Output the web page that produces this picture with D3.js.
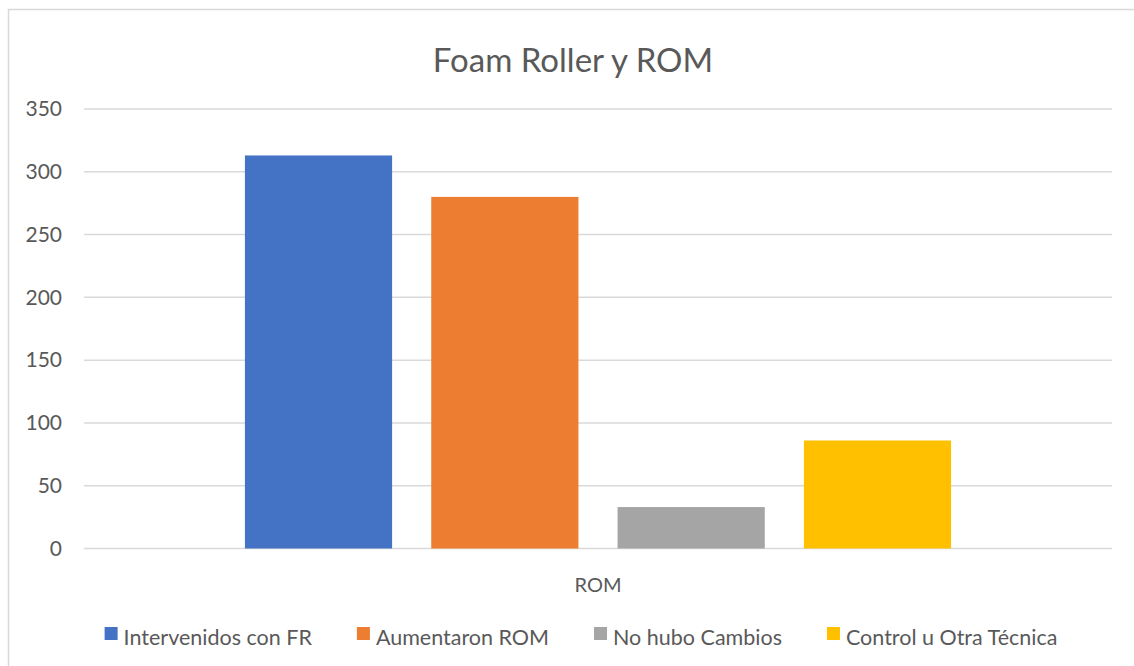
<!DOCTYPE html>
<html lang="es">
<head>
  <meta charset="utf-8">
  <title>Foam Roller y ROM</title>
  <script src="https://d3js.org/d3.v7.min.js"></script>
  <style>
    body { margin: 0; background: #fff; }
    text { font-family: Lato, "Open Sans", sans-serif; fill: #595959; }
  </style>
</head>
<body>
  <script>
    // data
    var categories = ["ROM"];
    var series = ["Intervenidos con FR", "Aumentaron ROM", "No hubo Cambios", "Control u Otra Técnica"];
    var values = [313, 280, 33, 86];
    var colors = ["#4472c4", "#ed7d31", "#a5a5a5", "#ffc000"];
    var yTicks = [0, 50, 100, 150, 200, 250, 300, 350];

    var w = 1134, h = 666;
    var plotLeft = 84, plotRight = 1112, plotTop = 109, plotBottom = 548.5;

    var svg = d3.select("body").append("svg")
      .attr("width", w)
      .attr("height", h);

    // chart border
    svg.append("rect")
      .attr("x", 8.5).attr("y", 9.5)
      .attr("width", w).attr("height", h)
      .attr("fill", "#fff")
      .attr("stroke", "#d9d9d9")
      .attr("stroke-width", 1.5);

    var y = d3.scaleLinear().domain([0, 350]).range([plotBottom, plotTop]);

    var x0 = d3.scaleBand().domain(categories).range([plotLeft, plotRight]);
    // bars of one category, spaced like excel clustered columns
    var groupW = x0.bandwidth() * 0.725;
    var gx = x0("ROM") + (x0.bandwidth() - groupW) / 2;
    var x1 = d3.scaleBand().domain(series)
      .range([gx, gx + groupW])
      .paddingInner(0.21)
      .paddingOuter(0.105);

    // gridlines
    svg.append("g")
      .selectAll("line")
      .data(yTicks)
      .enter().append("line")
      .attr("x1", plotLeft).attr("x2", plotRight)
      .attr("y1", function(d) { return y(d); })
      .attr("y2", function(d) { return y(d); })
      .attr("stroke", "#d9d9d9")
      .attr("stroke-width", 1.5);

    // y tick labels
    svg.append("g")
      .selectAll("text")
      .data(yTicks)
      .enter().append("text")
      .attr("x", 62)
      .attr("y", function(d) { return y(d); })
      .attr("dy", "0.35em")
      .attr("text-anchor", "end")
      .attr("font-size", 21)
      .text(function(d) { return d; });

    // bars
    svg.append("g")
      .selectAll("rect")
      .data(series)
      .enter().append("rect")
      .attr("x", function(d) { return x1(d); })
      .attr("width", x1.bandwidth())
      .attr("y", function(d, i) { return y(values[i]); })
      .attr("height", function(d, i) { return y(0) - y(values[i]); })
      .attr("fill", function(d, i) { return colors[i]; });

    // category label
    svg.append("text")
      .attr("x", x0("ROM") + x0.bandwidth() / 2)
      .attr("y", 592)
      .attr("text-anchor", "middle")
      .attr("font-size", 20)
      .text(categories[0]);

    // title
    svg.append("text")
      .attr("x", 573)
      .attr("y", 72)
      .attr("text-anchor", "middle")
      .attr("font-size", 33)
      .text("Foam Roller y ROM");

    // legend, laid out left to right then centered
    var gap = 45;
    var legend = svg.append("g");
    var pos = 0;
    series.forEach(function(s, i) {
      var item = legend.append("g").attr("transform", "translate(" + pos + ",0)");
      item.append("rect")
        .attr("x", 0).attr("y", -18)
        .attr("width", 13).attr("height", 13)
        .attr("fill", colors[i]);
      var t = item.append("text")
        .attr("x", 19).attr("y", 0)
        .attr("font-size", 21.5)
        .text(s);
      pos += 19 + t.node().getComputedTextLength() + gap;
    });
    var legW = pos - gap;
    legend.attr("transform", "translate(" + (581 - legW / 2) + ",645)");
  </script>
</body>
</html>
